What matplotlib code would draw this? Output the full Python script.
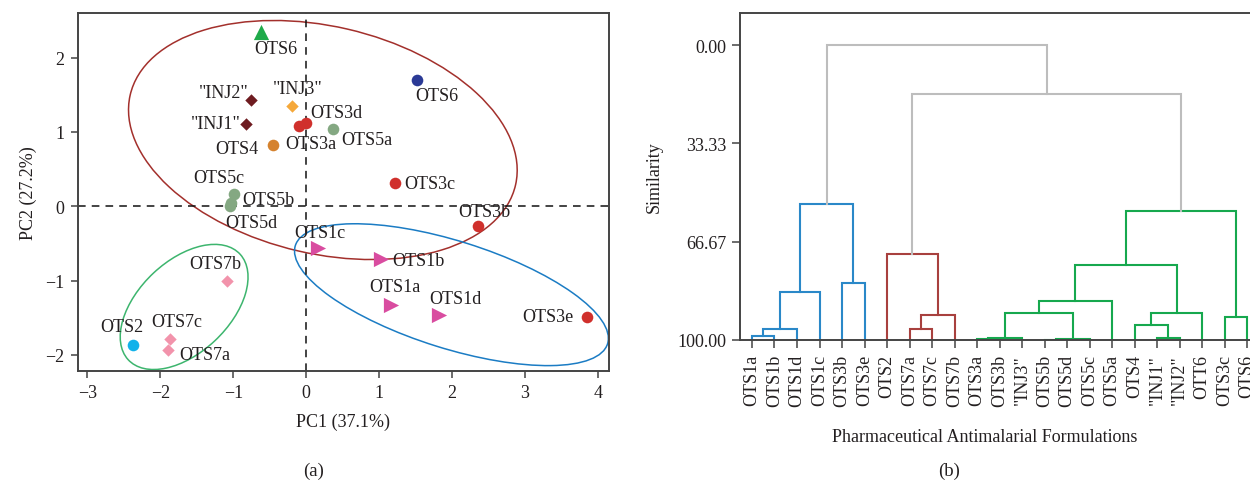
import matplotlib
matplotlib.use("Agg")
import matplotlib.pyplot as plt
from matplotlib.patches import Ellipse

plt.rcParams['font.family'] = ['Liberation Serif', 'DejaVu Serif']
plt.rcParams['font.size'] = 13
plt.rcParams['axes.unicode_minus'] = True

# ---------------- (a) PCA score plot data ----------------
pca_names = ["OTS6", "OTS6", '"INJ2"', '"INJ3"', '"INJ1"', "OTS3d", "OTS3a", "OTS5a",
             "OTS4", "OTS5c", "OTS5b", "OTS5d", "OTS3c", "OTS3b", "OTS1c", "OTS1b",
             "OTS1a", "OTS1d", "OTS3e", "OTS7b", "OTS7c", "OTS7a", "OTS2"]
pc1 = [-0.62, 1.52, -0.76, -0.20, -0.82, 0.00, -0.10, 0.36,
       -0.46, -0.99, -1.03, -1.05, 1.22, 2.35, 0.16, 1.03,
       1.16, 1.82, 3.85, -1.09, -1.87, -1.89, -2.38]
pc2 = [2.35, 1.70, 1.43, 1.35, 1.10, 1.12, 1.08, 1.04,
       0.83, 0.17, 0.04, 0.01, 0.31, -0.27, -0.56, -0.71,
       -1.33, -1.46, -1.49, -1.01, -1.79, -1.93, -1.87]
pca_group = ["OTS6t", "OTS6c", "INJ12", "INJ3", "INJ12", "OTS3", "OTS3", "OTS5",
             "OTS4", "OTS5", "OTS5", "OTS5", "OTS3", "OTS3", "OTS1", "OTS1",
             "OTS1", "OTS1", "OTS3", "OTS7", "OTS7", "OTS7", "OTS2"]
pc1_label = "PC1 (37.1%)"
pc2_label = "PC2 (27.2%)"

# confidence ellipses: centre x, centre y, width, height, angle
ellipse_cx = [0.227, 1.99, -1.675]
ellipse_cy = [0.891, -1.19, -1.355]
ellipse_w = [5.42, 4.48, 2.09]
ellipse_h = [3.06, 1.445, 1.24]
ellipse_ang = [-12.8, -17.1, 42.6]

# ---------------- (b) dendrogram data ----------------
leaf_labels = ["OTS1a", "OTS1b", "OTS1d", "OTS1c", "OTS3b", "OTS3e", "OTS2", "OTS7a",
               "OTS7c", "OTS7b", "OTS3a", "OTS3b", '"INJ3"', "OTS5b", "OTS5d", "OTS5c",
               "OTS5a", "OTS4", '"INJ1"', '"INJ2"', "OTT6", "OTS3c", "OTS6"]
# merges: (child a, child b, similarity, cluster colour key); new node id = 23 + index
merge_a = [0, 23, 24, 4, 25, 7, 28, 6, 10, 31, 13, 33, 32, 35, 18, 17, 38, 36, 21, 40, 30, 27]
merge_b = [1, 2, 3, 5, 26, 8, 9, 29, 11, 12, 14, 15, 34, 16, 19, 37, 20, 39, 22, 41, 42, 43]
merge_sim = [98.6, 96.4, 83.6, 80.7, 54.0, 96.4, 91.4, 71.0, 99.5, 99.2, 99.9, 99.8,
             90.8, 86.7, 99.3, 95.0, 90.8, 74.6, 92.3, 56.4, 16.6, 0.0]
merge_col = ["b", "b", "b", "b", "b", "r", "r", "r", "g", "g", "g", "g",
             "g", "g", "g", "g", "g", "g", "g", "g", "k", "k"]
sim_ticks = [0.0, 33.33, 66.67, 100.0]

# ---------------- styles ----------------
group_style = {
    "OTS6t": dict(marker="^", color="#1faa4a", s=120),
    "OTS6c": dict(marker="o", color="#2b3a96", s=70),
    "INJ12": dict(marker="D", color="#6e1b20", s=40),
    "INJ3": dict(marker="D", color="#f5a83a", s=40),
    "OTS3": dict(marker="o", color="#d0302c", s=70),
    "OTS5": dict(marker="o", color="#84a882", s=70),
    "OTS4": dict(marker="o", color="#d5822e", s=70),
    "OTS1": dict(marker=">", color="#d94ca0", s=120),
    "OTS7": dict(marker="D", color="#f293ab", s=40),
    "OTS2": dict(marker="o", color="#12b2ea", s=70),
}
label_offsets = [(10.5, -12.0), (14.2, -11.5), (-19.7, 5.3), (4.0, 12.7), (-22.1, 0.5),
                 (21.9, 7.9), (8.7, -12.7), (24.8, -7.7), (-25.9, -3.1), (-11.1, 11.3),
                 (26.4, 2.4), (15.8, -12.5), (24.7, 0.0), (4.5, 10.8), (1.2, 10.8),
                 (26.4, -1.2), (2.9, 13.5), (11.8, 11.5), (-28.5, 0.0), (-8.6, 13.0),
                 (4.8, 12.5), (25.9, -3.4), (-8.1, 13.2)]
ellipse_colors = ["#a3302c", "#1b7cc4", "#3db56e"]
dendro_colors = {"b": "#2a88c8", "r": "#a8403e", "g": "#16a84e", "k": "#bdbdbd"}
spine_col = "#444444"
text_col = "#231f20"

W, H = 1250, 485
fig = plt.figure(figsize=(W / 100, H / 100), dpi=100)

# ---------- panel (a) ----------
ax1 = fig.add_axes([78 / W, 1 - 371.5 / H, 531 / W, 357.5 / H])
ax1.set_xlim(-3.13, 4.15)
ax1.set_ylim(-2.21, 2.60)
for cx, cy, w, h, a, c in zip(ellipse_cx, ellipse_cy, ellipse_w, ellipse_h, ellipse_ang, ellipse_colors):
    ax1.add_patch(Ellipse((cx, cy), w, h, angle=a, fill=False, edgecolor=c, lw=1.1, zorder=1))
ax1.axhline(0, color="#111111", lw=1.1, ls=(0, (5, 4)), zorder=1.5)
ax1.axvline(0, color="#111111", lw=1.1, ls=(0, (5, 4)), zorder=1.5)
for x, y, g, n, off in zip(pc1, pc2, pca_group, pca_names, label_offsets):
    st = group_style[g]
    ax1.scatter([x], [y], marker=st["marker"], color=st["color"], s=st["s"],
                linewidths=0, zorder=3)
    ax1.annotate(n, (x, y), xytext=off, textcoords="offset points", ha="center",
                 va="center", color=text_col, fontsize=13, zorder=4)
ax1.set_xticks([-3, -2, -1, 0, 1, 2, 3, 4])
ax1.set_yticks([-2, -1, 0, 1, 2])
ax1.set_xlabel(pc1_label, color=text_col, labelpad=8)
ax1.set_ylabel(pc2_label, color=text_col, labelpad=6)
for sp in ax1.spines.values():
    sp.set_color(spine_col)
    sp.set_linewidth(1.4)
ax1.tick_params(direction="out", length=5, width=1.1, color=spine_col,
                labelcolor=text_col, labelsize=13, pad=5)

# ---------- panel (b) ----------
ax2 = fig.add_axes([740 / W, 1 - 341 / H, 510 / W, 327 / H])
n_leaf = len(leaf_labels)
pos = {i: float(i) for i in range(n_leaf)}
hgt = {i: 100.0 for i in range(n_leaf)}
for k, (a, b, s, c) in enumerate(zip(merge_a, merge_b, merge_sim, merge_col)):
    xa, xb = pos[a], pos[b]
    ax2.plot([xa, xa, xb, xb], [hgt[a], s, s, hgt[b]], color=dendro_colors[c],
             lw=1.5, solid_joinstyle="miter", zorder=2)
    pos[n_leaf + k] = (xa + xb) / 2
    hgt[n_leaf + k] = s
ax2.set_xlim(-0.533, 22.13)
ax2.set_ylim(100, -10.9)
ax2.set_xticks(range(n_leaf))
ax2.set_xticklabels(leaf_labels, rotation=90, color=text_col)
ax2.set_yticks(sim_ticks)
ax2.set_yticklabels([f"{v:.2f}" for v in sim_ticks], color=text_col)
ax2.spines["right"].set_visible(False)
for sp in ["top", "left", "bottom"]:
    ax2.spines[sp].set_color(spine_col)
    ax2.spines[sp].set_linewidth(1.4)
ax2.tick_params(direction="out", length=6, width=1.1, color=spine_col,
                labelcolor=text_col, labelsize=13, pad=4)
ax2.set_ylabel("Similarity", color=text_col, labelpad=10)
xl = ax2.set_xlabel("Pharmaceutical Antimalarial Formulations", color=text_col, labelpad=16)
xl.set_x((985 - 740) / 510)

fig.text(314 / W, 1 - 471 / H, "(a)", ha="center", va="center", color=text_col, fontsize=13.5)
fig.text(949 / W, 1 - 471 / H, "(b)", ha="center", va="center", color=text_col, fontsize=13.5)

fig.savefig("out.png", dpi=100, facecolor="white")
